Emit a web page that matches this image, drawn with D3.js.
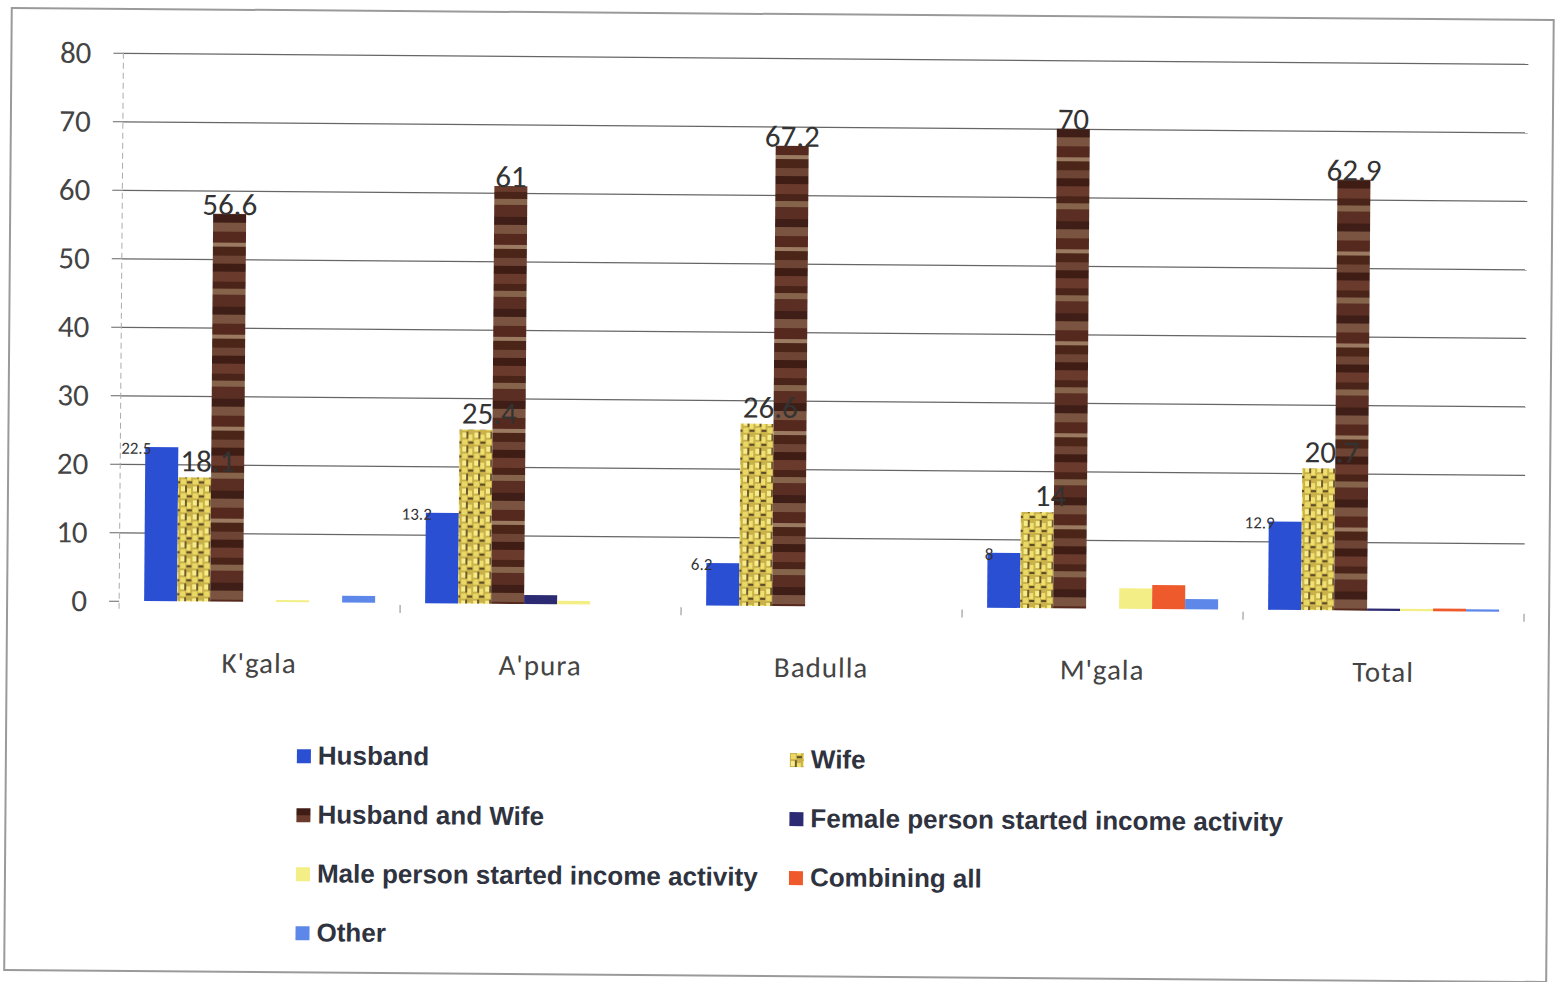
<!DOCTYPE html>
<html>
<head>
<meta charset="utf-8">
<script src="https://cdn.jsdelivr.net/npm/d3@7"></script>
<style>
  body { margin: 0; background: #fff; }
</style>
</head>
<body>
<div class="chart"></div>
<script>
const regions = ["K'gala", "A'pura", "Badulla", "M'gala", "Total"];
const seriesNames = ["Husband", "Wife", "Husband and Wife",
  "Female person started income activity", "Male person started income activity",
  "Combining all", "Other"];
const husband     = [22.5, 13.2, 6.2, 8, 12.9];
const wife        = [18.1, 25.4, 26.6, 14, 20.7];
const husbandWife = [56.6, 61, 67.2, 70, 62.9];
const female      = [0, 1.3, 0, 0, 0.3];
const male        = [0.3, 0.5, 0, 3, 0.3];
const combining   = [0, 0, 0, 3.5, 0.4];
const other       = [1, 0, 0, 1.5, 0.3];
const yTicks = [0, 10, 20, 30, 40, 50, 60, 70, 80];

const seriesValues = [husband, wife, husbandWife, female, male, combining, other];
const fills = ["#2b4fd3", "url(#wifePat)", "url(#hwPat)", "#2c2a72", "#f3ef86", "#ef5a2c", "#5d88ea"];

const W = 1557, H = 982;
const plotLeft = 120, plotRight = 1525, plotTop = 58, base = 606;

const svg = d3.select(".chart").append("svg")
  .attr("width", W).attr("height", H);

// textures for the two patterned series
const defs = svg.append("defs");
const wp = defs.append("pattern").attr("id", "wifePat")
  .attr("patternUnits", "userSpaceOnUse").attr("width", 12).attr("height", 14);
wp.append("rect").attr("width", 12).attr("height", 14).attr("fill", "#c9b24a");
wp.append("rect").attr("x", 1).attr("y", 1).attr("width", 4).attr("height", 5).attr("fill", "#f6ec8a");
wp.append("rect").attr("x", 7).attr("y", 3).attr("width", 4).attr("height", 6).attr("fill", "#f0e070");
wp.append("rect").attr("x", 5).attr("y", 0).attr("width", 2).attr("height", 7).attr("fill", "#6e5a2e");
wp.append("rect").attr("x", 1).attr("y", 8).attr("width", 5).attr("height", 5).attr("fill", "#ead866");
wp.append("rect").attr("x", 7).attr("y", 10).attr("width", 5).attr("height", 2).attr("fill", "#5e4c28");

const hp = defs.append("pattern").attr("id", "hwPat")
  .attr("patternUnits", "userSpaceOnUse").attr("width", 40).attr("height", 92);
[["#6a3b2d", 0, 10], ["#4a2419", 10, 7], ["#86644c", 17, 6], ["#5a2e22", 23, 12],
 ["#3e1e16", 35, 8], ["#7a5440", 43, 9], ["#56291e", 52, 11], ["#9a7a60", 63, 4],
 ["#4c2519", 67, 9], ["#6e4434", 76, 8], ["#3f1d15", 84, 8]]
  .forEach(([c, yy, h]) => hp.append("rect").attr("y", yy).attr("width", 40).attr("height", h).attr("fill", c));

const g = svg.append("g").attr("transform", "rotate(0.45, 778, 491)");

g.append("rect")
  .attr("x", 8).attr("y", 14).attr("width", 1542).attr("height", 962)
  .attr("fill", "none").attr("stroke", "#9a9a9a").attr("stroke-width", 2);

const x0 = d3.scaleBand().domain(regions).range([plotLeft, plotRight]);
const x1 = d3.scaleBand().domain(seriesNames).range([25, x0.bandwidth() - 25]);
const y = d3.scaleLinear().domain([0, 80]).range([base, plotTop]);

// grid + y labels
const yAxis = d3.axisLeft(y).tickValues(yTicks).tickSize(-(plotRight - plotLeft)).tickPadding(32);
const ya = g.append("g").attr("transform", `translate(${plotLeft},0)`).call(yAxis);
ya.select(".domain").remove();
ya.selectAll(".tick line").attr("stroke", "#666").attr("stroke-width", 1.2);
ya.selectAll(".tick").filter(d => d === 0).select("line").attr("stroke", "none");
ya.selectAll(".tick").append("line").attr("x1", -10).attr("x2", 0).attr("stroke", "#666");
ya.selectAll(".tick text")
  .attr("font-family", "Carlito, 'Liberation Sans', sans-serif")
  .attr("font-size", 31).attr("fill", "#444");

g.append("line").attr("x1", plotLeft).attr("x2", plotLeft).attr("y1", plotTop).attr("y2", base + 8)
  .attr("stroke", "#aaa").attr("stroke-dasharray", "6,4");

// group boundary ticks
g.selectAll(".sep").data(regions.slice(1).map(r => x0(r)).concat([plotRight]))
  .enter().append("line").attr("class", "sep")
  .attr("x1", d => d).attr("x2", d => d).attr("y1", base + 2).attr("y2", base + 10)
  .attr("stroke", "#888");

// bars
const groups = g.selectAll(".grp").data(regions).enter().append("g")
  .attr("class", "grp").attr("transform", d => `translate(${x0(d)},0)`);

groups.selectAll("rect")
  .data((r, i) => seriesNames.map((s, k) => ({ s, k, v: seriesValues[k][i] })))
  .enter().append("rect")
  .attr("x", d => x1(d.s)).attr("width", x1.bandwidth())
  .attr("y", d => y(d.v)).attr("height", d => base - y(d.v))
  .attr("fill", d => fills[d.k]);

// value labels
groups.append("text")
  .attr("x", x1("Husband") + 6)
  .attr("y", (r, i) => y(husband[i]) + 7)
  .attr("text-anchor", "end")
  .attr("font-family", "Carlito, 'Liberation Sans', sans-serif")
  .attr("font-size", 17).attr("fill", "#333")
  .text((r, i) => husband[i]);

groups.append("text")
  .attr("x", x1("Wife") + x1.bandwidth() * 0.9)
  .attr("y", (r, i) => y(wife[i]) - 6)
  .attr("text-anchor", "middle")
  .attr("font-family", "Carlito, 'Liberation Sans', sans-serif")
  .attr("font-size", 31).attr("fill", "#333")
  .text((r, i) => wife[i]);

groups.append("text")
  .attr("x", x1("Husband and Wife") + x1.bandwidth() / 2)
  .attr("y", (r, i) => y(husbandWife[i]) + 1)
  .attr("text-anchor", "middle")
  .attr("font-family", "Carlito, 'Liberation Sans', sans-serif")
  .attr("font-size", 31).attr("fill", "#333")
  .text((r, i) => husbandWife[i]);

// category labels
g.selectAll(".cat").data(regions).enter().append("text")
  .attr("class", "cat")
  .attr("x", d => x0(d) + x0.bandwidth() / 2)
  .attr("y", 677)
  .attr("text-anchor", "middle")
  .attr("font-family", "Carlito, 'Liberation Sans', sans-serif")
  .attr("font-size", 29).attr("fill", "#444").attr("letter-spacing", 1)
  .text(d => d);

// legend
const legend = g.selectAll(".leg").data(seriesNames).enter().append("g")
  .attr("class", "leg")
  .attr("transform", (d, i) => `translate(${i % 2 ? 792 : 299},${760 + Math.floor(i / 2) * 59})`);
legend.append("rect").attr("x", 0).attr("y", -7).attr("width", 14).attr("height", 14)
  .attr("fill", (d, i) => fills[i]);
legend.append("text").attr("x", 21).attr("y", 8)
  .attr("font-family", "'Liberation Sans Narrow', 'Liberation Sans', sans-serif")
  .attr("font-weight", "bold").attr("font-size", 26).attr("fill", "#2f3340")
  .text(d => d);
</script>
</body>
</html>
